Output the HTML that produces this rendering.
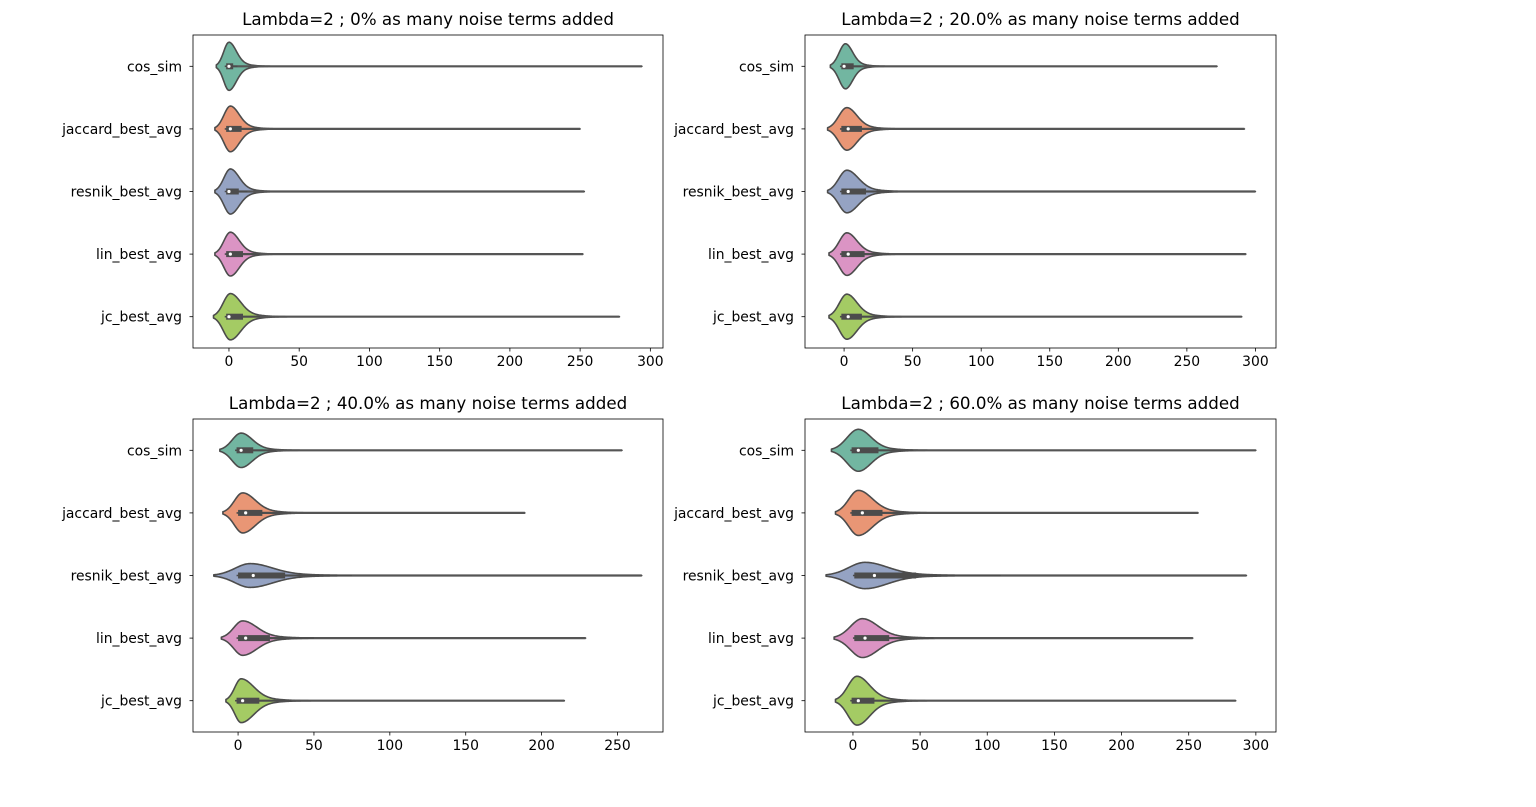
<!DOCTYPE html>
<html><head><meta charset="utf-8"><style>
html,body{margin:0;padding:0;background:#fff;}
svg{display:block;font-family:"DejaVu Sans","Liberation Sans",sans-serif;}
</style></head><body>
<svg id="fig" width="1536" height="807" viewBox="0 0 1536 807" xmlns="http://www.w3.org/2000/svg"></svg>
<script>
const categories = ["cos_sim","jaccard_best_avg","resnik_best_avg","lin_best_avg","jc_best_avg"];
const titles = ["Lambda=2 ; 0% as many noise terms added","Lambda=2 ; 20.0% as many noise terms added","Lambda=2 ; 40.0% as many noise terms added","Lambda=2 ; 60.0% as many noise terms added"];
const xTicks0 = [0,50,100,150,200,250,300];
const xTicks1 = [0,50,100,150,200,250,300];
const xTicks2 = [0,50,100,150,200,250];
const xTicks3 = [0,50,100,150,200,250,300];
const xDomains = [[-25.6,309],[-28.5,315],[-29.7,280],[-35.7,315]];
const mins0 = [-9,-10,-10,-10,-11], peaks0=[0,1,1,1,1], maxs0=[294,250,253,252,278], q1s0=[-2,-2,-2,-2,-2], meds0=[0,1,0,1,0], q3s0=[3,9,7,10,10], whis0=[6,22,13,22,22], hts0=[0.77,0.73,0.72,0.7,0.74], spread0=[5,6,6,6,7];
const mins1 = [-10,-12,-12,-11,-11], peaks1=[1,2,2,2,2], maxs1=[272,292,300,293,290], q1s1=[-2,-2,-2,-2,-2], meds1=[0,3,3,3,3], q3s1=[7,13,16,15,13], whis1=[12,27,35,33,30], hts1=[0.72,0.68,0.68,0.68,0.72], spread1=[5,7,8,7,7];
const mins2 = [-12,-10,-16,-11,-8], peaks2=[2,3,8,3,2], maxs2=[253,189,266,229,215], q1s2=[-1,0,0,0,-1], meds2=[2,5,10,5,3], q3s2=[10,16,31,21,14], whis2=[25,35,75,50,35], hts2=[0.55,0.64,0.38,0.55,0.7], spread2=[7,8,14,9,8];
const mins3 = [-16,-13,-20,-14,-13], peaks3=[4,4,9,7,3], maxs3=[300,257,293,253,285], q1s3=[-1,-1,1,1,-1], meds3=[4,7,16,9,4], q3s3=[19,22,47,27,16], whis3=[45,50,110,60,40], hts3=[0.67,0.72,0.42,0.62,0.78], spread3=[9,10,16,11,9];

const colors = ["#72b6a1","#e99675","#95a3c3","#db94c4","#a4cb64"];
const panels = [
 {L:193,T:35,W:470,H:313,ticks:xTicks0,mins:mins0,peaks:peaks0,maxs:maxs0,q1:q1s0,med:meds0,q3:q3s0,wh:whis0,ht:hts0,sp:spread0},
 {L:805,T:35,W:471,H:313,ticks:xTicks1,mins:mins1,peaks:peaks1,maxs:maxs1,q1:q1s1,med:meds1,q3:q3s1,wh:whis1,ht:hts1,sp:spread1},
 {L:193,T:419,W:470,H:313,ticks:xTicks2,mins:mins2,peaks:peaks2,maxs:maxs2,q1:q1s2,med:meds2,q3:q3s2,wh:whis2,ht:hts2,sp:spread2},
 {L:805,T:419,W:471,H:313,ticks:xTicks3,mins:mins3,peaks:peaks3,maxs:maxs3,q1:q1s3,med:meds3,q3:q3s3,wh:whis3,ht:hts3,sp:spread3}
];
const NS="http://www.w3.org/2000/svg";
const svg=document.getElementById('fig');
function mk(tag,attrs,parent){const e=document.createElementNS(NS,tag);for(const k in attrs)e.setAttribute(k,attrs[k]);(parent||svg).appendChild(e);return e;}
panels.forEach((p,pi)=>{
  const g=mk('g',{});
  
  
  const d=xDomains[pi];
  const xs=v=>p.L+(v-d[0])/(d[1]-d[0])*p.W;
  const band=p.H/categories.length;
  const yc=i=>p.T+band*(i+0.5);
  const t=mk('text',{x:p.L+p.W/2,y:p.T-10,'text-anchor':'middle','font-size':16.7,fill:'#000'},g);
  t.textContent=titles[pi];
  
  
  categories.forEach((c,i)=>{
    const cy=yc(i), Hh=p.ht[i]*band/2;
    const mn=p.mins[i], pk=p.peaks[i], mx=p.maxs[i], sR=p.sp[i], sL=(pk-mn)/2.4;
    const pts=[];
    const N=400;
    for(let k=0;k<=N;k++){
      const v=mn+(mx-mn)*k/N;
      let w;
      if(v<pk){const z=(v-pk)/sL;w=Hh*Math.exp(-0.5*z*z);}
      else{const z=(v-pk)/sR;w=Hh*(0.82*Math.exp(-0.5*z*z)+0.18*Math.exp(-0.5*(z/2.0)*(z/2.0)));}
      pts.push([xs(v),w]);
    }
    let dstr='M'+pts.map(q=>q[0].toFixed(2)+','+(cy-q[1]).toFixed(2)).join('L');
    dstr+='L'+pts.slice().reverse().map(q=>q[0].toFixed(2)+','+(cy+q[1]).toFixed(2)).join('L')+'Z';
    const vp=mk('path',{d:dstr,fill:colors[i],stroke:'#4c4c4c','stroke-width':1.6,'stroke-linejoin':'round'},g);
    
    
    const tl=mk('line',{x1:xs(pk),x2:xs(mx),y1:cy,y2:cy,stroke:'#555','stroke-width':2.2},g);
    
    
    const wl=mk('line',{x1:xs(Math.max(mn,p.q1[i]-1)),x2:xs(p.wh[i]),y1:cy,y2:cy,stroke:'#4c4c4c','stroke-width':1.6},g);
    
    
    const bx=mk('rect',{x:xs(p.q1[i]),y:cy-3,width:xs(p.q3[i])-xs(p.q1[i]),height:6,fill:'#4c4c4c'},g);
    
    
    const md=mk('circle',{cx:xs(p.med[i]),cy:cy,r:1.6,fill:'#fff'},g);
    
    
    mk('line',{x1:p.L-3.5,x2:p.L,y1:cy,y2:cy,stroke:'#000','stroke-width':0.8},g);
    const yl=mk('text',{x:p.L-11,y:cy+5,'text-anchor':'end','font-size':13.9,fill:'#000'},g);
    yl.textContent=c;
    
    
  });
  p.ticks.forEach(tv=>{
    const x=xs(tv);
    mk('line',{x1:x,x2:x,y1:p.T+p.H,y2:p.T+p.H+3.5,stroke:'#000','stroke-width':0.8},g);
    const tl=mk('text',{x:x,y:p.T+p.H+18,'text-anchor':'middle','font-size':13.9,fill:'#000'},g);
    tl.textContent=tv;
    
    
  });
  const fr=mk('rect',{x:p.L,y:p.T,width:p.W,height:p.H,fill:'none',stroke:'#000','stroke-width':0.8},g);
  
  
});
</script>
</body></html>
